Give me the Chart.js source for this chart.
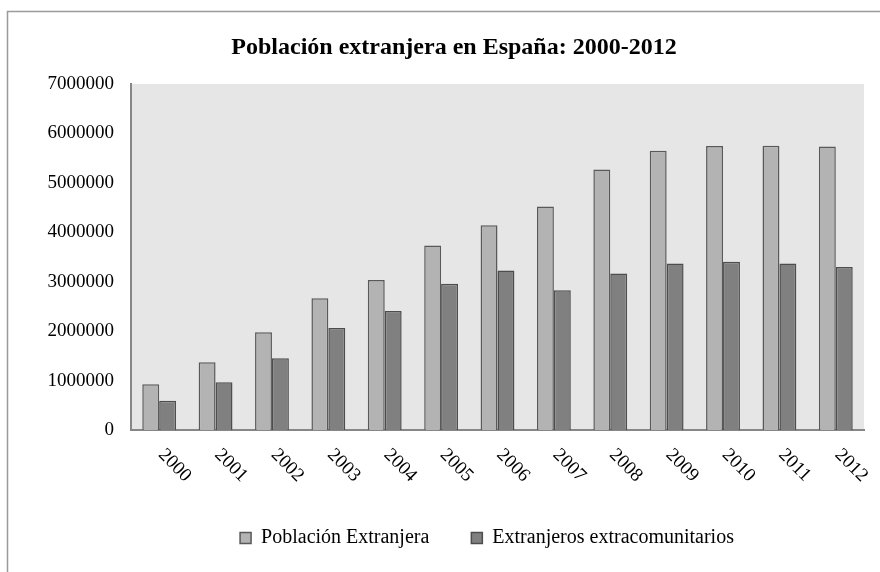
<!DOCTYPE html>
<html>
<head>
<meta charset="utf-8">
<script src="https://cdn.jsdelivr.net/npm/chart.js@4.4.1/dist/chart.umd.min.js"></script>
<style>
  html, body { margin: 0; padding: 0; background: #fff; }
  #wrap { position: relative; width: 880px; height: 572px; }
</style>
</head>
<body>
<div id="wrap"><canvas id="chart"></canvas></div>
<script>
// ================================
// DATA
// ================================
const years = ['2000', '2001', '2002', '2003', '2004', '2005', '2006',
               '2007', '2008', '2009', '2010', '2011', '2012'];
const poblacionExtranjera = [923879, 1370657, 1977946, 2664168, 3034326, 3730610, 4144166,
                             4519554, 5268762, 5648671, 5747734, 5751487, 5736258];
const extracomunitarios = [590000, 965000, 1450000, 2065000, 2410000, 2960000, 3225000,
                           2825000, 3165000, 3370000, 3405000, 3370000, 3300000];
const yTicks = [0, 1000000, 2000000, 3000000, 4000000, 5000000, 6000000, 7000000];

const SERIF = '"Liberation Serif", "Times New Roman", serif';

// ================================
// PLUGINS
// ================================
const frame = {
    id: 'frame',
    afterLayout(chart) {
        // title and legend sit a bit right of the canvas centre
        const t = chart.titleBlock;
        if (t) { t.left += 22; t.right += 22; }
        const l = chart.legend;
        if (l) { l.left += 55; l.right += 55; }
    },
    beforeDraw(chart) {
        const { ctx, chartArea } = chart;
        ctx.save();
        // plot background
        ctx.fillStyle = '#e6e6e6';
        ctx.fillRect(chartArea.left, chartArea.top,
            chartArea.right - chartArea.left, chartArea.bottom - chartArea.top);
        // outer border (top + left only)
        ctx.strokeStyle = '#9a9a9a';
        ctx.lineWidth = 1.5;
        ctx.beginPath();
        ctx.moveTo(7.5, 572);
        ctx.lineTo(7.5, 11.5);
        ctx.lineTo(880, 11.5);
        ctx.stroke();
        ctx.restore();
    }
};

// year labels slanted downwards, starting at the tick
const slantedLabels = {
    id: 'slantedLabels',
    afterDraw(chart) {
        const { ctx, chartArea } = chart;
        const xScale = chart.scales.x;
        ctx.save();
        ctx.font = '19px ' + SERIF;
        ctx.fillStyle = '#000';
        ctx.textAlign = 'left';
        ctx.textBaseline = 'middle';
        years.forEach((label, i) => {
            const x = xScale.getPixelForTick(i);
            ctx.save();
            ctx.translate(x + 2, chartArea.bottom + 22);
            ctx.rotate(Math.PI / 4);
            ctx.fillText(label, 0, 0);
            ctx.restore();
        });
        ctx.restore();
    }
};

// ================================
// CHART
// ================================
new Chart(document.getElementById('chart'), {
    type: 'bar',
    data: {
        labels: years,
        datasets: [{
            label: 'Población Extranjera',
            data: poblacionExtranjera,
            backgroundColor: '#b3b3b3',
            borderColor: '#595959',
            borderWidth: 1.5
        }, {
            label: 'Extranjeros extracomunitarios',
            data: extracomunitarios,
            backgroundColor: '#808080',
            borderColor: '#4d4d4d',
            borderWidth: 1.5
        }]
    },
    options: {
        responsive: true,
        maintainAspectRatio: false,
        animation: false,
        layout: { padding: { left: 0, right: 16, top: 0, bottom: 14 } },
        datasets: { bar: { categoryPercentage: 0.6, barPercentage: 1.0 } },
        plugins: {
            title: {
                display: true,
                text: 'Población extranjera en España: 2000-2012',
                color: '#000',
                font: { family: SERIF, size: 24, weight: 'bold' },
                padding: { top: 33.6, bottom: 21.6 }
            },
            legend: {
                position: 'bottom',
                labels: {
                    color: '#000',
                    font: { family: SERIF, size: 20 },
                    boxWidth: 11,
                    boxHeight: 11,
                    padding: 42
                }
            },
            tooltip: { enabled: false }
        },
        scales: {
            x: {
                grid: { display: false, drawTicks: false },
                border: { color: '#878787', width: 2 },
                ticks: { display: false },
                afterFit(scale) { scale.height = 56; }
            },
            y: {
                min: 0,
                max: 7000000,
                grid: { display: false, drawTicks: false },
                border: { color: '#878787', width: 2 },
                afterBuildTicks(scale) {
                    scale.ticks = yTicks.map(v => ({ value: v }));
                },
                ticks: {
                    color: '#000',
                    font: { family: SERIF, size: 19 },
                    padding: 17,
                    callback: v => String(v)
                },
                afterFit(scale) { scale.width = 131; }
            }
        }
    },
    plugins: [frame, slantedLabels]
});
</script>
</body>
</html>
